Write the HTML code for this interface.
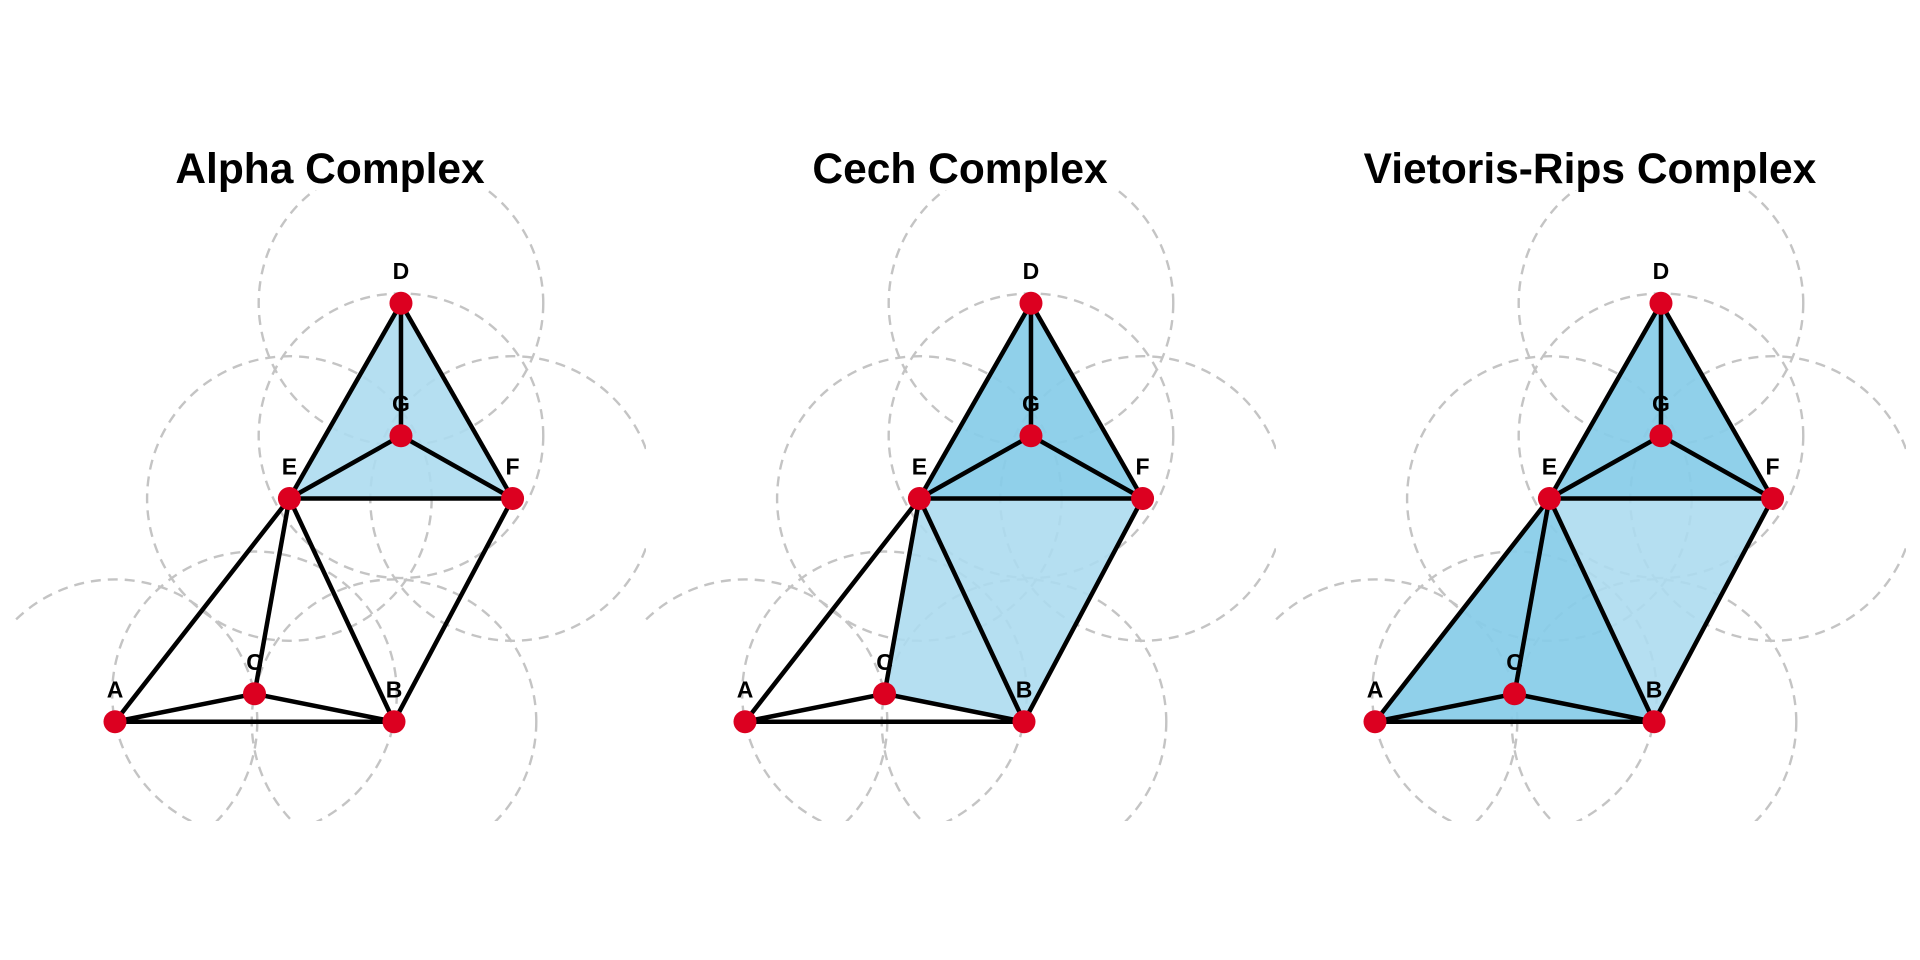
<!DOCTYPE html>
<html><head><meta charset="utf-8"><style>
html,body{margin:0;padding:0;background:#fff;}
svg{display:block;font-family:"Liberation Sans",sans-serif;}
</style></head><body>
<svg id="chart" width="1920" height="960" viewBox="0 0 1920 960" xmlns="http://www.w3.org/2000/svg">
<defs>
<clipPath id="clip"><rect x="15" y="190" width="631" height="631"/></clipPath>
</defs>
</svg>
<script>
const panelTitles = ["Alpha Complex", "Cech Complex", "Vietoris-Rips Complex"];
const pointNames = ["A","B","C","D","E","F","G"];
const pointX = [0, 2, 1, 2.05, 1.25, 2.85, 2.05];
const pointY = [0, 0, 0.2, 3.0, 1.6, 1.6, 2.05];
const radius = 1.02;
const edges = [["D","E"],["D","G"],["D","F"],["E","G"],["G","F"],["E","F"],["E","A"],["E","C"],["E","B"],["F","B"],["A","C"],["C","B"],["A","B"]];
const lightFills = [
  [["D","E","F"]],
  [["E","C","B"],["E","B","F"]],
  [["E","B","F"]]
];
const darkFills = [
  [],
  [["D","E","F"]],
  [["D","E","F"],["A","E","B"]]
];

const svg = document.getElementById('chart');
const NS = 'http://www.w3.org/2000/svg';
const unit = 139.5, x0 = 115, y0 = 721.7, panelDx = 630;
function sx(p, v){ return x0 + p*panelDx + v*unit; }
function sy(v){ return y0 - v*unit; }
function idx(n){ return pointNames.indexOf(n); }
function mk(tag, attrs, parent){
  const e = document.createElementNS(NS, tag);
  for (const k in attrs) e.setAttribute(k, attrs[k]);
  parent.appendChild(e); return e;
}

panelTitles.forEach((t, p) => {
  const g = mk('g', {}, svg);
  
  
  const title = mk('text', {x: 330 + p*panelDx, y: 183, 'text-anchor':'middle', 'font-size':'42.5', 'font-weight':'bold', fill:'#000'}, g);
  title.textContent = t;
  
  

  const cg = mk('g', {transform:'translate(' + (p*panelDx) + ',0)'}, g);
  const inner = mk('g', {'clip-path':'url(#clip)'}, cg);
  pointNames.forEach((n, i) => {
    const c = mk('circle', {cx: x0 + pointX[i]*unit, cy: sy(pointY[i]), r: radius*unit, fill:'none', stroke:'#c4c4c4', 'stroke-width':'2.4', 'stroke-dasharray':'10 7'}, inner);
    
    
  });

  function tri(list, color, op, nm){
    list.forEach(t3 => {
      const pts = t3.map(n => sx(p, pointX[idx(n)]) + ',' + sy(pointY[idx(n)])).join(' ');
      const poly = mk('polygon', {points: pts, fill: color, 'fill-opacity': op}, g);
      
      
    });
  }
  tri(lightFills[p], 'rgb(173,220,240)', 0.9, 'simplex-fill');
  tri(darkFills[p], 'rgb(136,204,232)', 0.93, 'simplex-fill-dark');

  pointNames.forEach((n, i) => {
    const l = mk('text', {x: sx(p, pointX[i]), y: sy(pointY[i]) - 24, 'text-anchor':'middle', 'font-size':'23', 'font-weight':'bold', fill:'#000'}, g);
    l.textContent = n;
    
    
  });

  edges.forEach(e => {
    const a = idx(e[0]), b = idx(e[1]);
    const ln = mk('line', {x1: sx(p, pointX[a]), y1: sy(pointY[a]), x2: sx(p, pointX[b]), y2: sy(pointY[b]), stroke:'#000', 'stroke-width':'4.5'}, g);
    
    
  });

  pointNames.forEach((n, i) => {
    const c = mk('circle', {cx: sx(p, pointX[i]), cy: sy(pointY[i]), r: 11.5, fill:'#dc0020'}, g);
    
    
  });
});
</script>
</body></html>
